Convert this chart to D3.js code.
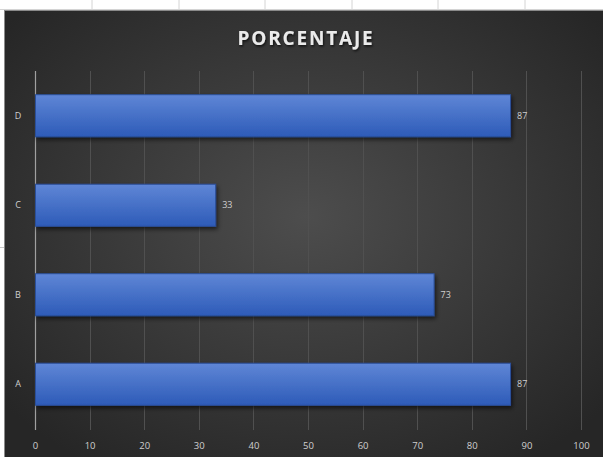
<!DOCTYPE html>
<html><head><meta charset="utf-8">
<script src="https://cdn.jsdelivr.net/npm/d3@7"></script>
<style>html,body{margin:0;padding:0;background:#fff;overflow:hidden}</style>
</head><body>
<script>
const categories = ["A","B","C","D"];
const values = [87,73,33,87];
const xTicks = [0,10,20,30,40,50,60,70,80,90,100];
const title = "PORCENTAJE";
const sheetCols = [92,179,265,352,438,525];

const W=603,H=457;
const svg=d3.select("body").append("svg").attr("width",W).attr("height",H);
const defs=svg.append("defs");
const rg=defs.append("radialGradient").attr("id","bg").attr("cx","50%").attr("cy","45%").attr("r","65%");
rg.append("stop").attr("offset","0%").attr("stop-color","#4d4d4d");
rg.append("stop").attr("offset","100%").attr("stop-color","#262626");
const bg=defs.append("linearGradient").attr("id","bar").attr("x1",0).attr("y1",0).attr("x2",0).attr("y2",1);
bg.append("stop").attr("offset","0%").attr("stop-color","#5f86d6");
bg.append("stop").attr("offset","100%").attr("stop-color","#2d5bb8");
const sh=defs.append("filter").attr("id","sh").attr("x","-10%").attr("y","-20%").attr("width","130%").attr("height","160%");
sh.append("feDropShadow").attr("dx",1.5).attr("dy",2.5).attr("stdDeviation",2).attr("flood-color","#000").attr("flood-opacity",0.6);
const tsh=defs.append("filter").attr("id","tsh");
tsh.append("feDropShadow").attr("dx",1).attr("dy",1.5).attr("stdDeviation",1).attr("flood-color","#000").attr("flood-opacity",0.7);

// spreadsheet bits
svg.selectAll("line.sc").data(sheetCols).enter().append("line")
 .attr("x1",d=>d).attr("x2",d=>d).attr("y1",0).attr("y2",10).attr("stroke","#d4d4d4");
svg.append("line").attr("x1",0).attr("x2",W).attr("y1",9.5).attr("y2",9.5).attr("stroke","#d4d4d4");
svg.append("line").attr("x1",0).attr("x2",5).attr("y1",247.5).attr("y2",247.5).attr("stroke","#c8c8c8");

// chart area
svg.append("rect").attr("x",4.5).attr("y",10.5).attr("width",W).attr("height",H).attr("fill","url(#bg)").attr("stroke","#8a8a8a");

const x=d3.scaleLinear().domain([0,100]).range([35,581]);
const y=d3.scaleBand().domain(categories.slice().reverse()).range([71,429]).paddingInner(0.53).paddingOuter(0.265);

// gridlines
svg.append("g").selectAll("line").data(xTicks.slice(1)).enter().append("line")
 .attr("x1",d=>Math.round(x(d))+0.5).attr("x2",d=>Math.round(x(d))+0.5).attr("y1",71).attr("y2",430)
 .attr("stroke","#505050").attr("stroke-width",1);

// axis x
const ax=svg.append("g").attr("transform","translate(0,430)")
 .call(d3.axisBottom(x).tickValues(xTicks).tickSize(0).tickPadding(12));
ax.select(".domain").remove();
ax.selectAll("text").attr("fill","#cfcfcf").attr("font-family","Open Sans, sans-serif").attr("font-size",9.5);

// y axis line
svg.append("line").attr("x1",35.5).attr("x2",35.5).attr("y1",71).attr("y2",430).attr("stroke","#a0a0a0").attr("stroke-width",1.2);

const ay=svg.append("g").attr("transform","translate(22,0)").call(d3.axisLeft(y).tickSize(0).tickPadding(0));
ay.select(".domain").remove();
ay.selectAll("text").attr("fill","#cfcfcf").attr("font-family","Open Sans, sans-serif").attr("font-size",9).attr("text-anchor","middle").attr("dx",-4);

// bars
const data=categories.map((c,i)=>({c,v:values[i]}));
svg.append("g").selectAll("rect").data(data).enter().append("rect")
 .attr("x",x(0)+0.5).attr("y",d=>y(d.c)).attr("width",d=>x(d.v)-x(0)).attr("height",y.bandwidth())
 .attr("fill","url(#bar)").attr("stroke","#2a4f9a").attr("stroke-width",1).attr("filter","url(#sh)");

svg.append("g").selectAll("text").data(data).enter().append("text")
 .attr("x",d=>x(d.v)+7).attr("y",d=>y(d.c)+y.bandwidth()/2).attr("dy","0.35em")
 .attr("fill","#cfcfcf").attr("font-family","Open Sans, sans-serif").attr("font-size",9).text(d=>d.v);

svg.append("text").attr("x",306).attr("y",45).attr("text-anchor","middle")
 .attr("fill","#ebebeb").attr("font-family","Open Sans, sans-serif").attr("font-weight","bold")
 .attr("font-size",19).attr("letter-spacing",1.8).attr("filter","url(#tsh)").text(title);
</script>
</body></html>
